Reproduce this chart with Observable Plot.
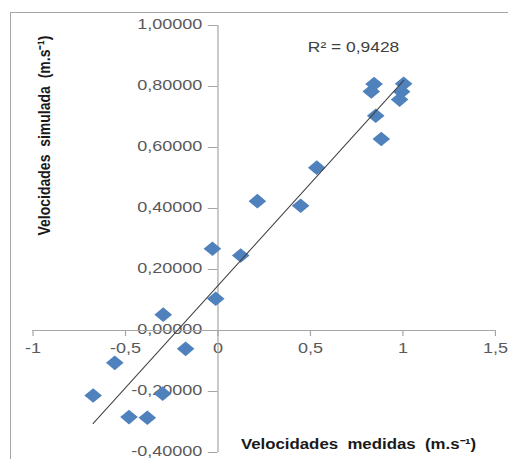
<!DOCTYPE html>
<html><head><meta charset="utf-8">
<script src="https://cdn.jsdelivr.net/npm/d3@7"></script>
<script src="https://cdn.jsdelivr.net/npm/@observablehq/plot@0.6"></script>
<style>
html,body{margin:0;padding:0;background:#fff;overflow:hidden;width:508px;height:459px}
#wrap{position:relative;width:508px;height:459px;overflow:hidden}
#border{position:absolute;left:10px;top:12px;width:600px;height:600px;border:1.5px solid #a6a6a6;pointer-events:none}
svg text{white-space:pre}
</style></head><body>
<div id="wrap"><div id="chart"></div><div id="border"></div></div>
<script>
// measured (x) vs simulated (y) velocities, m/s
const measured  = [-0.675,-0.558,-0.481,-0.382,-0.299,-0.296,-0.175,-0.030,-0.012,0.123,0.213,0.447,0.534,0.844,0.829,0.853,0.883,1.004,0.993,0.982];
const simulated = [-0.213,-0.106,-0.284,-0.286,-0.207,0.052,-0.060,0.268,0.104,0.246,0.424,0.409,0.534,0.808,0.784,0.704,0.628,0.809,0.783,0.757];
const xTicks = [-1,-0.5,0,0.5,1,1.5];
const yTicks = [-0.4,-0.2,0,0.2,0.4,0.6,0.8,1.0];
const r2Label = "R² = 0,9428";
const xTitle = "Velocidades  medidas  (m.s⁻¹)";
const yTitle = "Velocidades  simulada  (m.s⁻¹)";

const data = measured.map((x,i)=>({x, y: simulated[i]}));
const S = 1.2;                 // horizontal stretch of the original figure
const W = Math.round(508 / S);
const H = 459;
const font = "'Liberation Sans', Arial, sans-serif";
const axisGray = "#a6a6a6";
const fmtY = d => d.toFixed(5).replace(".", ",");
const fmtX = d => String(d).replace(".", ",");

const svg = Plot.plot({
  width: W, height: H,
  marginLeft: 27, marginRight: 11, marginTop: 25, marginBottom: 7,
  x: {domain: [-1, 1.5], axis: null},
  y: {domain: [-0.4, 1.0], axis: null},
  style: {background: "white"},
  marks: [
    Plot.text(yTicks, {x: 0, y: d=>d, text: fmtY, textAnchor: "end", dx: -13, dy: -1.5, fontSize: 15, fontFamily: font, fill: "#595959"}),
    Plot.text(xTicks, {x: d=>d, y: 0, text: fmtX, textAnchor: "middle", dy: 18, fontSize: 15, fontFamily: font, fill: "#595959"}),
    Plot.ruleY([0], {stroke: axisGray, strokeWidth: 1}),
    Plot.ruleX([0], {stroke: axisGray, strokeWidth: 1}),
    Plot.ruleY(yTicks, {y: d=>d, x1: 0, x2: 0, insetLeft: -8, stroke: axisGray, strokeWidth: 1}),
    Plot.ruleX(xTicks, {x: d=>d, y1: 0, y2: 0, insetBottom: -6, stroke: axisGray, strokeWidth: 1}),
    Plot.dot(data, {x: "x", y: "y", symbol: "diamond2", r: 6.6, fill: "#4F81BD", stroke: "none"}),
    Plot.linearRegressionY(data, {x: "x", y: "y", stroke: "#404040", strokeWidth: 1, ci: 0}),
    Plot.text([r2Label], {x: 0.733, y: 0.93, text: d=>d, fontSize: 14.5, fontFamily: font, fill: "#404040"}),
    Plot.text([xTitle], {x: 0.76, y: -0.373, text: d=>d, fontSize: 14, fontWeight: "bold", fontFamily: font, fill: "#1a1a1a"}),
    Plot.text([yTitle], {x: -0.937, y: 0.639, text: d=>d, rotate: -90, fontSize: 14, fontWeight: "bold", fontFamily: font, fill: "#1a1a1a"})
  ]
});
svg.setAttribute("viewBox", `0 0 ${W} ${H}`);
svg.setAttribute("width", 508);
svg.setAttribute("height", H);
svg.setAttribute("preserveAspectRatio", "none");
svg.style.width = "508px";
svg.style.height = H + "px";
svg.style.maxWidth = "none";
svg.style.display = "block";
document.getElementById("chart").appendChild(svg);
</script>
</body></html>
